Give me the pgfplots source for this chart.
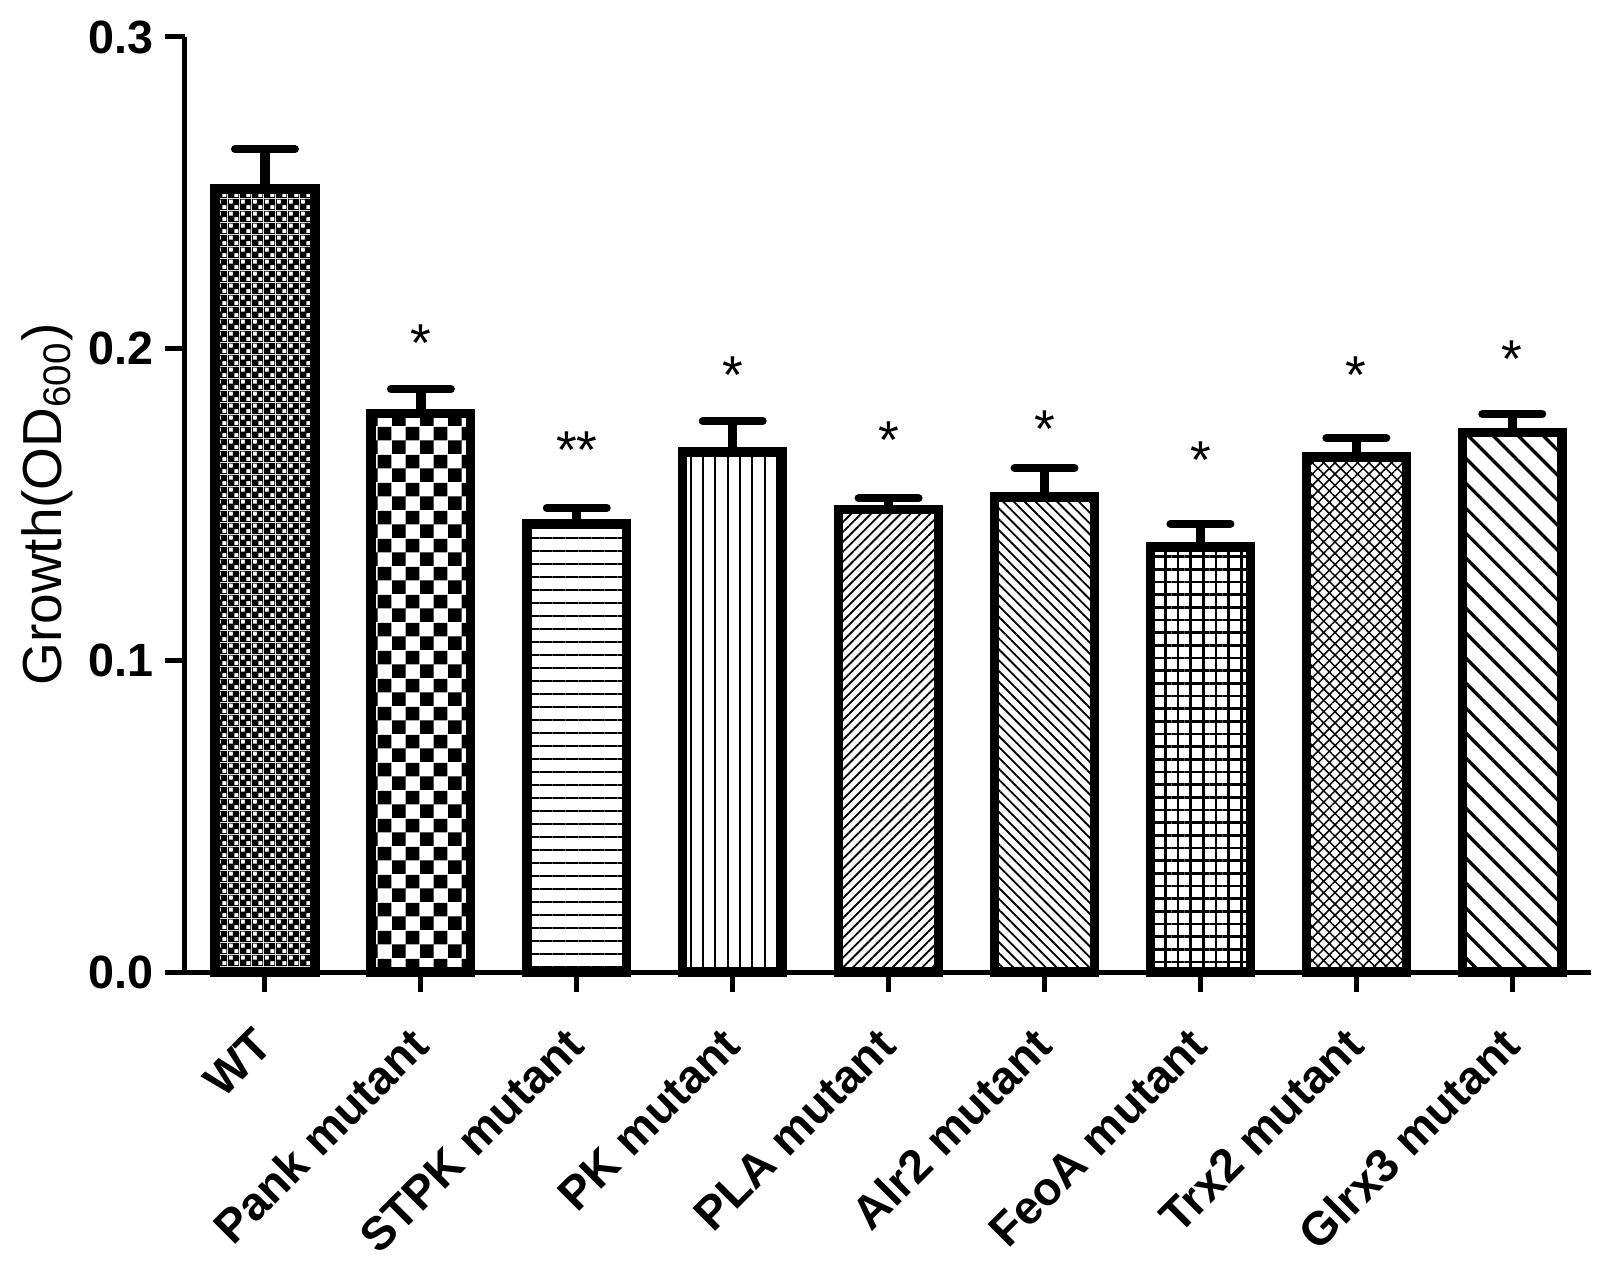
\documentclass[border=0pt]{standalone}
\usepackage{fontspec}
\setmainfont{Liberation Sans}
\usepackage{pgfplots}
\pgfplotsset{compat=1.18}
\usetikzlibrary{patterns,patterns.meta}

% fine checkerboard, mostly black with small white cells
\pgfdeclarepatternformonly{checkfine}{\pgfpointorigin}{\pgfpoint{3.6pt}{3.6pt}}{\pgfpoint{3.6pt}{3.6pt}}{%
  \pgfpathrectangle{\pgfpointorigin}{\pgfpoint{3.6pt}{3.6pt}}%
  \pgfpathrectangle{\pgfpoint{2.05pt}{0.25pt}}{\pgfpoint{1.3pt}{1.3pt}}%
  \pgfpathrectangle{\pgfpoint{0.25pt}{2.05pt}}{\pgfpoint{1.3pt}{1.3pt}}%
  \pgfseteorule\pgfusepath{fill}}
\pgfdeclarepatternformonly{checkcoarse}{\pgfpointorigin}{\pgfpoint{8.4pt}{8.4pt}}{\pgfpoint{8.4pt}{8.4pt}}{%
  \pgfpathrectangle{\pgfpointorigin}{\pgfpoint{4.2pt}{4.2pt}}%
  \pgfpathrectangle{\pgfpoint{4.2pt}{4.2pt}}{\pgfpoint{4.2pt}{4.2pt}}%
  \pgfusepath{fill}}

\begin{document}
\begin{tikzpicture}
\path[use as bounding box] (-55.5pt,-88.2pt) rectangle (426.3pt,291.6pt);
\begin{axis}[
    at={(0pt,0pt)}, anchor=south west,
    scale only axis,
    width=421.8pt, height=280.5pt,
    xmin=-0.513, xmax=8.505,
    ymin=0, ymax=0.3,
    axis lines*=left,
    axis line style={line width=1.5pt},
    tick align=outside,
    major tick length=6pt,
    tick style={line width=1.5pt, black},
    xtick={0,...,8},
    xticklabels={WT, Pank mutant, STPK mutant, PK mutant, PLA mutant,
                 Alr2 mutant, FeoA mutant, Trx2 mutant, Glrx3 mutant},
    ytick={0,0.1,0.2,0.3},
    yticklabel style={/pgf/number format/.cd, fixed, fixed zerofill,
                      precision=1, assume math mode=true},
    ticklabel style={font=\bfseries\fontsize{14}{16}\selectfont},
    xticklabel style={yshift=-11pt, xshift=2pt, rotate=45, anchor=east},
    every axis y label/.style={at={(axis description cs:-0.098,0.5)},
        rotate=90, anchor=center, font=\fontsize{16.5}{18}\selectfont},
    ylabel={Growth(OD\textsubscript{600})},
    clip=false,
    gbar/.style={ybar, bar width=0.64, bar shift=0pt, draw=black,
        line width=2.8pt,
        error bars/y dir=plus, error bars/y explicit,
        error bars/error bar style={line width=2.8pt},
        error bars/error mark options={rotate=90, line width=2.4pt,
            mark size=9pt, line cap=round}},
]
\addplot[gbar, pattern=checkfine] coordinates {(0,0.2512) +- (0,0.0128)};
\addplot[gbar, pattern=checkcoarse] coordinates {(1,0.1793) +- (0,0.0077)};
\addplot[gbar, pattern={Lines[angle=0, distance=3.9pt, line width=0.6pt]}]
    coordinates {(2,0.1437) +- (0,0.0052)};
\addplot[gbar, pattern={Lines[angle=90, distance=3.7pt, line width=0.6pt]}]
    coordinates {(3,0.1668) +- (0,0.0100)};
\addplot[gbar, pattern={Lines[angle=45, distance=2.1pt, line width=0.55pt]}]
    coordinates {(4,0.1485) +- (0,0.0035)};
\addplot[gbar, pattern={Lines[angle=-45, distance=2.3pt, line width=0.55pt]}]
    coordinates {(5,0.1524) +- (0,0.0093)};
\addplot[gbar, pattern={Hatch[angle=0, distance=3.8pt, line width=0.75pt]}]
    coordinates {(6,0.1364) +- (0,0.0074)};
\addplot[gbar, pattern={Hatch[angle=45, distance=2.4pt, line width=0.45pt]}]
    coordinates {(7,0.1652) +- (0,0.0061)};
\addplot[gbar, pattern={Lines[angle=-45, distance=5.3pt, line width=1pt]}]
    coordinates {(8,0.1732) +- (0,0.0058)};

% significance marks
\addplot[only marks, mark=none, nodes near coords, point meta=explicit symbolic,
    nodes near coords style={font=\fontsize{16}{18}\selectfont, anchor=base, inner sep=0pt}]
coordinates {
    (1,0.1960) [*]
    (2,0.1617) [**]
    (3,0.1855) [*]
    (4,0.1646) [*]
    (5,0.1682) [*]
    (6,0.1582) [*]
    (7,0.1855) [*]
    (8,0.1906) [*]
};
\end{axis}
\end{tikzpicture}
\end{document}
